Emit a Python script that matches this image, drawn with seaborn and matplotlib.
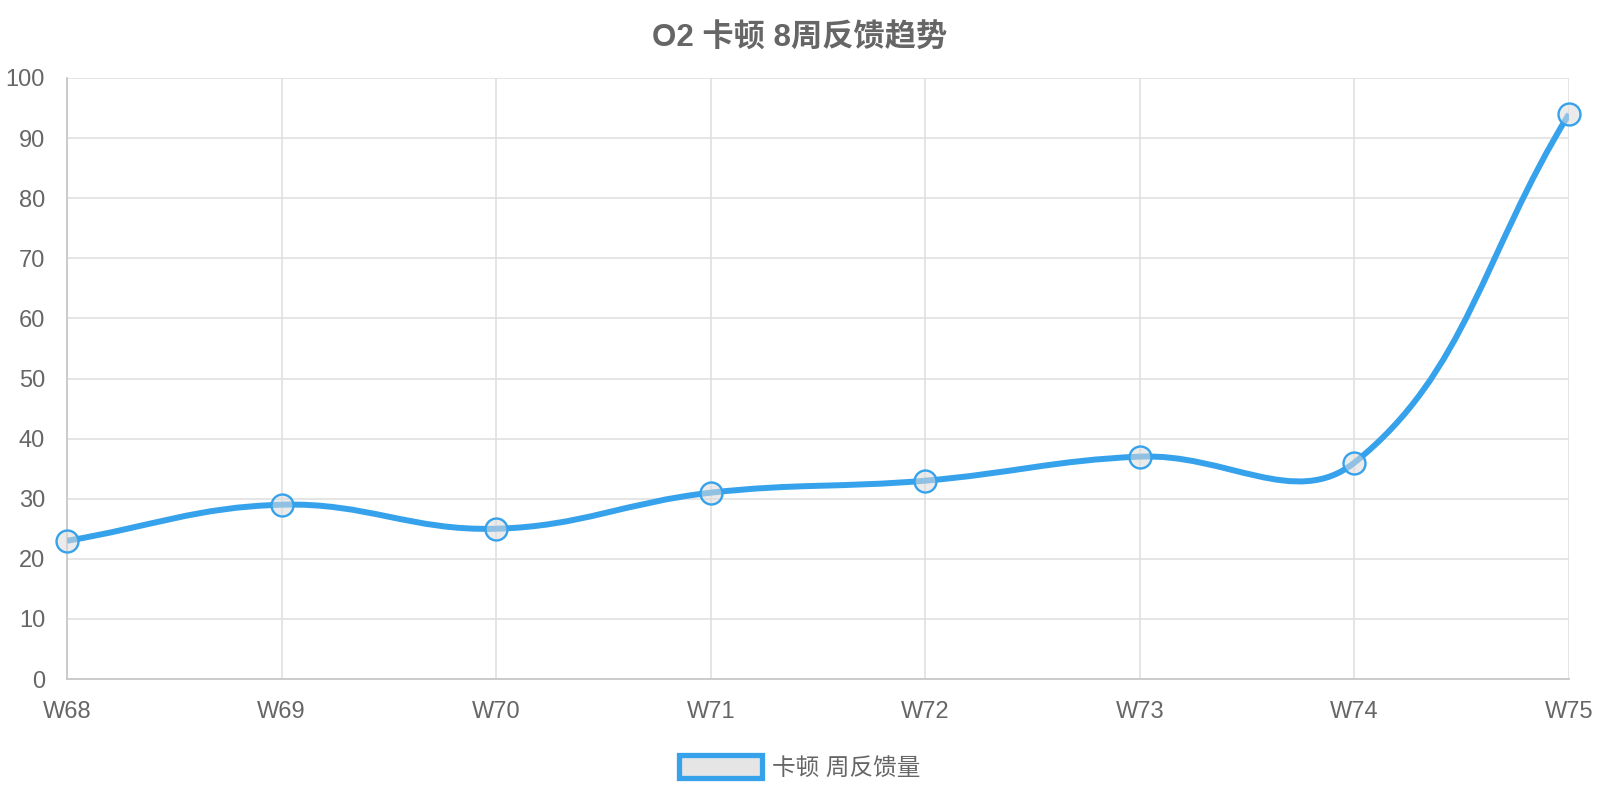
import matplotlib
matplotlib.use("Agg")
import matplotlib.pyplot as plt
from matplotlib.path import Path
from matplotlib.patches import PathPatch, Patch
import seaborn as sns
import pandas as pd
import numpy as np

weeks = ["W68", "W69", "W70", "W71", "W72", "W73", "W74", "W75"]
counts = [23, 29, 25, 31, 33, 37, 36, 94]
title = "O2 卡顿 8周反馈趋势"
series_name = "卡顿 周反馈量"
y_ticks = list(range(0, 101, 10))

blue = "#36A2EB"
grey_text = "#666666"

sns.set_theme(style="white")
plt.rcParams["font.family"] = ["Liberation Sans", "Noto Sans CJK SC", "DejaVu Sans"]

df = pd.DataFrame({"week": weeks, "count": counts})
df["pos"] = np.arange(len(weeks))

W, H = 1600, 800
left, right, top, bottom = 67, 1569, 78, 679
fig = plt.figure(figsize=(16, 8), dpi=100)
ax = fig.add_axes([left / W, 1 - bottom / H, (right - left) / W, (bottom - top) / H])
ax.set_xlim(0, len(weeks) - 1)
ax.set_ylim(0, 100)

# Chart.js style spline (tension 0.4), computed in pixel space
pts = ax.transData.transform(np.column_stack([df["pos"], df["count"]]))
n = len(pts)
t = 0.4
prev_cp, next_cp = [], []
for i in range(n):
    cur = pts[i]
    prv = pts[i - 1] if i > 0 else cur
    nxt = pts[i + 1] if i < n - 1 else cur
    d01 = np.hypot(*(cur - prv))
    d12 = np.hypot(*(nxt - cur))
    tot = d01 + d12
    s01 = d01 / tot if tot else 0
    s12 = d12 / tot if tot else 0
    prev_cp.append(cur - t * s01 * (nxt - prv))
    next_cp.append(cur + t * s12 * (nxt - prv))
verts = [pts[0]]
codes = [Path.MOVETO]
for i in range(n - 1):
    verts += [next_cp[i], prev_cp[i + 1], pts[i + 1]]
    codes += [Path.CURVE4] * 3
verts = ax.transData.inverted().transform(np.array(verts))
curve = PathPatch(Path(verts, codes), facecolor="none", edgecolor=blue,
                  linewidth=4.3, capstyle="butt", joinstyle="round", zorder=3)
ax.add_patch(curve)

sns.scatterplot(data=df, x="pos", y="count", ax=ax, s=250,
                facecolor=(0.86, 0.86, 0.86, 0.55), edgecolor=blue,
                linewidth=1.7, zorder=4, clip_on=False, legend=False)

ax.set_xticks(df["pos"])
ax.set_xticklabels(weeks)
ax.set_yticks(y_ticks)
ax.set_xlabel("")
ax.set_ylabel("")
ax.grid(True, color="#dedede", linewidth=1.1)
ax.set_axisbelow(True)
for side in ["top", "right"]:
    ax.spines[side].set_visible(False)
for side in ["left", "bottom"]:
    ax.spines[side].set_color("#c8c8c8")
    ax.spines[side].set_linewidth(1.3)
ax.tick_params(axis="both", length=10.8, width=1.1, color="#dedede",
               labelcolor=grey_text, labelsize=17)
ax.tick_params(axis="y", pad=5)
ax.tick_params(axis="x", pad=5)
ax.set_xlim(0, len(weeks) - 1)
ax.set_ylim(0, 100)

fig.text(0.5, 1 - 39 / H, title, ha="center", va="center",
         fontsize=22.5, fontweight="bold", color=grey_text)

handle = Patch(facecolor="#e5e5e5", edgecolor=blue, linewidth=3.8)
fig.legend([handle], [series_name], loc="center", bbox_to_anchor=(0.5, 1 - 767 / H),
           frameon=False, fontsize=17, labelcolor=grey_text,
           handlelength=3.5, handleheight=1.15, handletextpad=0.45)

fig.savefig("out.png", dpi=100)
